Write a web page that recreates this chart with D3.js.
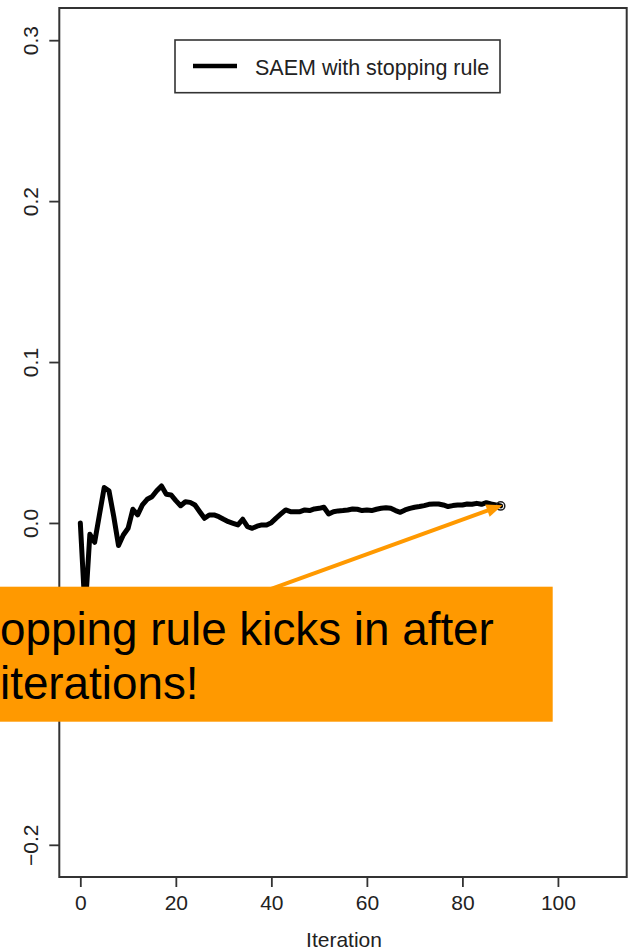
<!DOCTYPE html>
<html>
<head>
<meta charset="utf-8">
<script src="https://cdn.jsdelivr.net/npm/d3@7"></script>
<style>
  html, body { margin: 0; padding: 0; background: #fff; }
  svg { display: block; font-family: "Liberation Sans", Arial, sans-serif; }
</style>
</head>
<body>
<svg id="chart" width="631" height="949"></svg>
<script>
// Running estimate from the SAEM algorithm, one value per iteration (0..88)
const iterations = d3.range(0, 89);
const saemValues = [
  0.0, -0.055, -0.007, -0.012, 0.005, 0.022, 0.02, 0.004, -0.014, -0.0075,
  -0.0033, 0.0085, 0.005, 0.0112, 0.0147, 0.0163, 0.02, 0.023, 0.0178, 0.0174,
  0.0139, 0.0107, 0.0132, 0.0128, 0.0112, 0.007, 0.0029, 0.005, 0.005, 0.0039,
  0.0023, 0.0008, -0.0002, -0.0012, 0.0023, -0.0023, -0.0033, -0.002, -0.0012, -0.0012,
  0.0002, 0.003, 0.0056, 0.0081, 0.007, 0.007, 0.007, 0.0081, 0.0077, 0.0087,
  0.0091, 0.0098, 0.0056, 0.007, 0.0075, 0.0077, 0.0081, 0.0087, 0.0085, 0.0077,
  0.0081, 0.0077, 0.0085, 0.0091, 0.0095, 0.0091, 0.0077, 0.0066, 0.0081, 0.0091,
  0.0098, 0.0102, 0.0108, 0.0116, 0.0118, 0.0118, 0.0112, 0.0102, 0.0108, 0.0112,
  0.0112, 0.0118, 0.0116, 0.0122, 0.0116, 0.0126, 0.0118, 0.0112, 0.0106
];
const xTicks = [0, 20, 40, 60, 80, 100];
const yTicks = [-0.2, -0.1, 0.0, 0.1, 0.2, 0.3];
const seriesLabel = "SAEM with stopping rule";
const xTitle = "Iteration";
const noteLines = ["opping rule kicks in after", "iterations!"];

const svg = d3.select("#chart");
const plot = { left: 59.3, right: 626.7, top: 8, bottom: 877 };

// axis limits padded by 4% as in base graphics
const x = d3.scaleLinear().domain([-4.4, 114.4]).range([plot.left, plot.right]);
const y = d3.scaleLinear().domain([-0.22, 0.32]).range([plot.bottom, plot.top]);

const axisColor = "#333";
const labelColor = "#222";

// x axis
const gx = svg.append("g")
  .attr("transform", `translate(0,${plot.bottom})`)
  .call(d3.axisBottom(x).tickValues(xTicks).tickSize(10).tickPadding(0).tickFormat(d3.format("d")));
gx.select(".domain").remove();
gx.selectAll(".tick line").attr("stroke", axisColor).attr("stroke-width", 1.8);
gx.selectAll(".tick text")
  .attr("y", 33).attr("dy", null)
  .attr("fill", labelColor)
  .style("font-size", "21px")
  .style("font-family", "'Liberation Sans', Arial, sans-serif");

// y axis with rotated labels
const fmtY = v => (v < 0 ? "\u2212" : "") + d3.format(".1f")(Math.abs(v));
const gy = svg.append("g")
  .attr("transform", `translate(${plot.left},0)`)
  .call(d3.axisLeft(y).tickValues(yTicks).tickSize(10).tickFormat(fmtY));
gy.select(".domain").remove();
gy.selectAll(".tick line").attr("stroke", axisColor).attr("stroke-width", 1.8);
gy.selectAll(".tick text")
  .attr("x", null).attr("dy", null)
  .attr("transform", "translate(-21,0) rotate(-90)")
  .attr("text-anchor", "middle")
  .attr("fill", labelColor)
  .style("font-size", "21px")
  .style("font-family", "'Liberation Sans', Arial, sans-serif");

// plot frame
svg.append("rect")
  .attr("x", plot.left).attr("y", plot.top)
  .attr("width", plot.right - plot.left).attr("height", plot.bottom - plot.top)
  .attr("fill", "none").attr("stroke", axisColor).attr("stroke-width", 2);

// x axis title
svg.append("text")
  .attr("x", (x(0) + x(110)) / 2 + 1).attr("y", 946.5)
  .attr("text-anchor", "middle")
  .attr("fill", labelColor)
  .style("font-size", "21px")
  .text(xTitle);

// series line
const pts = iterations.map((it, i) => [it, saemValues[i]]);
svg.append("path")
  .datum(pts)
  .attr("fill", "none")
  .attr("stroke", "#000")
  .attr("stroke-width", 5)
  .attr("stroke-linejoin", "round")
  .attr("stroke-linecap", "round")
  .attr("d", d3.line().x(d => x(d[0])).y(d => y(d[1])));

// final iterate marker
const last = pts[pts.length - 1];
svg.append("circle")
  .attr("cx", x(last[0])).attr("cy", y(last[1])).attr("r", 4.2)
  .attr("fill", "none").attr("stroke", "#222").attr("stroke-width", 1.5);

// legend
const lg = svg.append("g");
lg.append("rect")
  .attr("x", 175).attr("y", 40).attr("width", 325).attr("height", 52.7)
  .attr("fill", "#fff").attr("stroke", axisColor).attr("stroke-width", 1.6);
lg.append("line")
  .attr("x1", 193).attr("x2", 237).attr("y1", 66).attr("y2", 66)
  .attr("stroke", "#000").attr("stroke-width", 4.5);
lg.append("text")
  .attr("x", 255).attr("y", 75)
  .attr("fill", labelColor)
  .style("font-size", "21.5px")
  .text(seriesLabel);

// annotation arrow pointing at the final iterate
const orange = "#FF9900";
const dir = [220, -79.7];
const len = Math.hypot(dir[0], dir[1]);
const u = [dir[0] / len, dir[1] / len];
const nrm = [-u[1], u[0]];
const tip = [x(last[0]) + u[0] * 2, y(last[1]) + u[1] * 2];
const headLen = 16, headHalf = 6.5;
const base = [tip[0] - u[0] * headLen, tip[1] - u[1] * headLen];
const tail = [tip[0] - u[0] * 300, tip[1] - u[1] * 300];
svg.append("line")
  .attr("x1", tail[0]).attr("y1", tail[1])
  .attr("x2", base[0] + u[0] * 2).attr("y2", base[1] + u[1] * 2)
  .attr("stroke", orange).attr("stroke-width", 4);
svg.append("path")
  .attr("d", d3.line()([
    tip,
    [base[0] + nrm[0] * headHalf, base[1] + nrm[1] * headHalf],
    [base[0] - nrm[0] * headHalf, base[1] - nrm[1] * headHalf]
  ]) + "Z")
  .attr("fill", orange);

// annotation box
svg.append("rect")
  .attr("x", -2).attr("y", 586.7).attr("width", 554.7).attr("height", 135)
  .attr("fill", orange);
svg.append("g").selectAll("text")
  .data(noteLines)
  .join("text")
  .attr("x", (d, i) => i === 0 ? 0 : 0)
  .attr("y", (d, i) => 645 + i * 53.5)
  .attr("fill", "#000")
  .style("font-size", "45.8px")
  .text(d => d);
</script>
</body>
</html>
